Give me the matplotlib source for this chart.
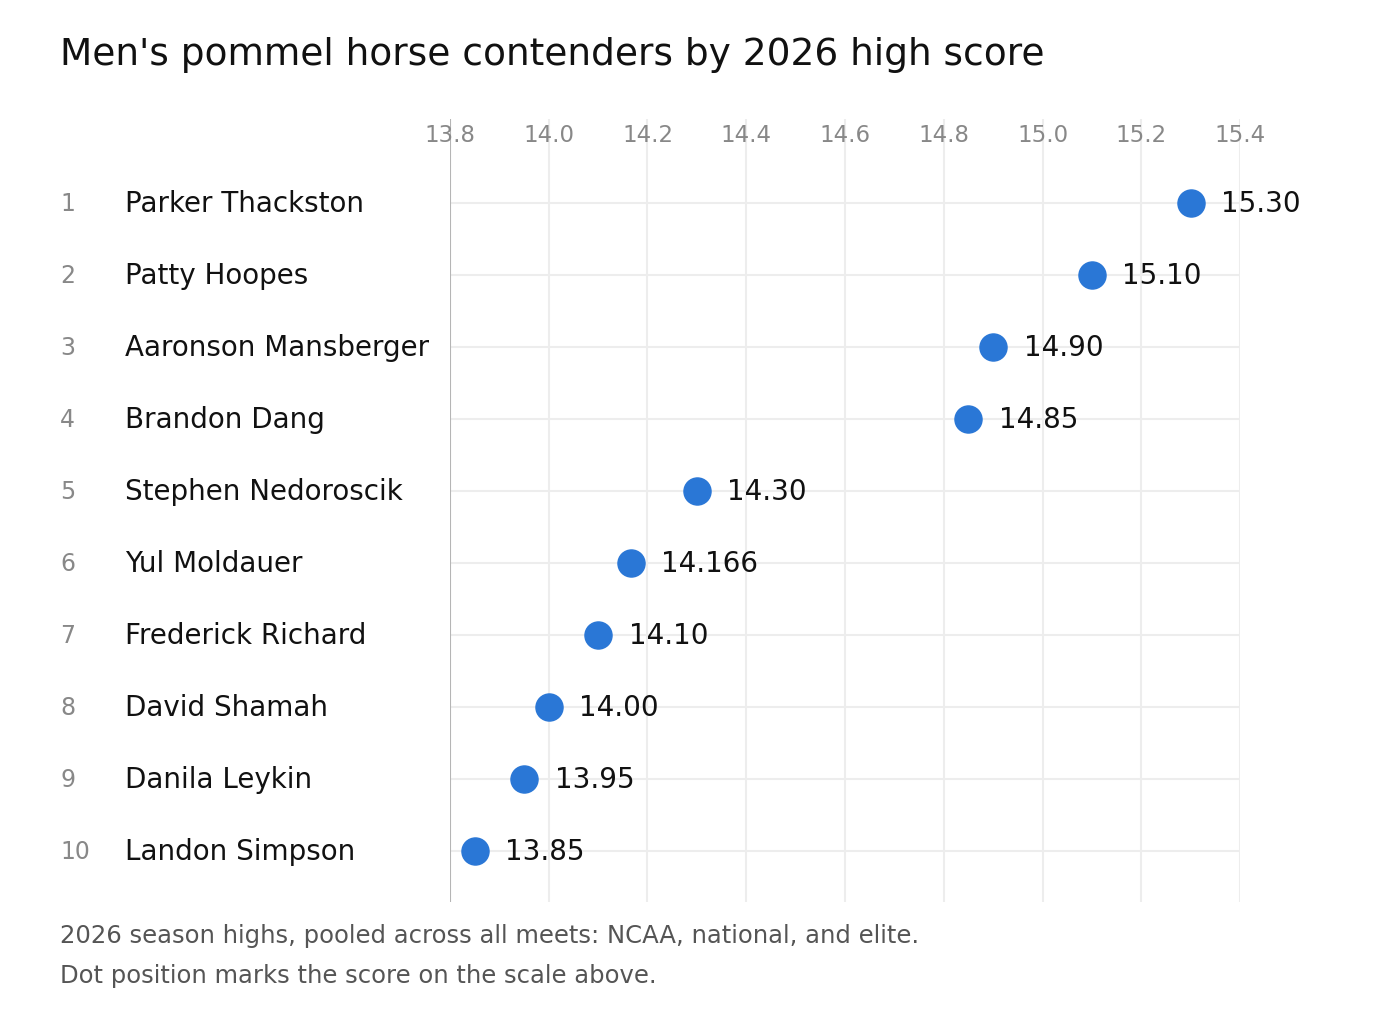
import matplotlib.pyplot as plt
from matplotlib.transforms import blended_transform_factory

ranks = list(range(1, 11))
names = ['Parker Thackston', 'Patty Hoopes', 'Aaronson Mansberger', 'Brandon Dang',
         'Stephen Nedoroscik', 'Yul Moldauer', 'Frederick Richard', 'David Shamah',
         'Danila Leykin', 'Landon Simpson']
scores = [15.30, 15.10, 14.90, 14.85, 14.30, 14.166, 14.10, 14.00, 13.95, 13.85]
score_labels = ['15.30', '15.10', '14.90', '14.85', '14.30', '14.166', '14.10', '14.00', '13.95', '13.85']
ticks = [13.8, 14.0, 14.2, 14.4, 14.6, 14.8, 15.0, 15.2, 15.4]

fig = plt.figure(figsize=(14, 10.2), dpi=100)
ax = fig.add_axes([450 / 1400, 1 - 903 / 1020, 790 / 1400, 783 / 1020])
ax.set_xlim(13.8, 15.4)
ax.set_ylim(9 + 51 / 72, -84 / 72)
ax.axis('off')

for t in ticks[1:]:
    ax.axvline(t, color='#ededed', lw=1.5, zorder=0)
ax.axvline(13.8, color='#b5b5b5', lw=1.5, zorder=1)
ys = list(range(len(names)))
for y in ys:
    ax.axhline(y, color='#ededed', lw=1.5, zorder=0)
for t in ticks:
    ax.text(t, -0.95, f'{t:.1f}', ha='center', va='center', fontsize=16.5, color='#888888')

ax.scatter(scores, ys, s=380, color='#2a77d6', zorder=3, clip_on=False)
for y, s, lab in zip(ys, scores, score_labels):
    ax.annotate(lab, (s, y), xytext=(22, 0), textcoords='offset points',
                va='center', fontsize=20, color='#111111')

tr = blended_transform_factory(fig.transFigure, ax.transData)
for y, r, n in zip(ys, ranks, names):
    ax.text(60 / 1400, y, str(r), transform=tr, va='center', fontsize=17, color='#888888')
    ax.text(125 / 1400, y, n, transform=tr, va='center', fontsize=20, color='#111111')

fig.text(60 / 1400, 1 - 55 / 1020, "Men's pommel horse contenders by 2026 high score",
         va='center', fontsize=27, color='#111111')
fig.text(60 / 1400, 1 - 936 / 1020, '2026 season highs, pooled across all meets: NCAA, national, and elite.',
         va='center', fontsize=17.5, color='#555555')
fig.text(60 / 1400, 1 - 976 / 1020, 'Dot position marks the score on the scale above.',
         va='center', fontsize=17.5, color='#555555')

fig.savefig('out.png', dpi=100, facecolor='white')
